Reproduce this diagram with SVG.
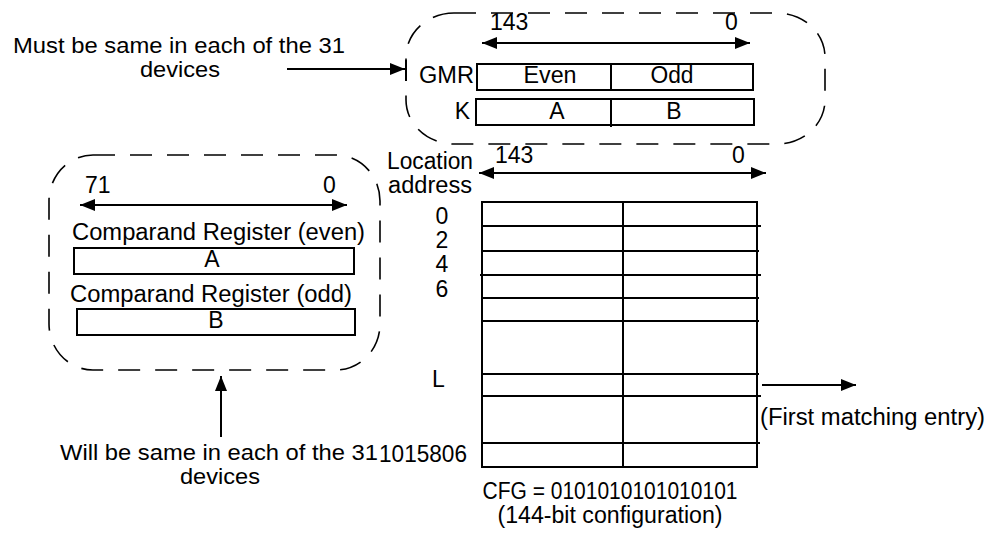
<svg xmlns="http://www.w3.org/2000/svg" width="987" height="533" viewBox="0 0 987 533">
<style>
text{font-family:"Liberation Sans",Arial,sans-serif;font-size:23px;fill:#000}
.n{font-size:21.5px}
.m{text-anchor:middle}
.e{text-anchor:end}
.box{fill:none;stroke:#000;stroke-width:2}
.ln{fill:none;stroke:#000;stroke-width:2}
.dash{fill:none;stroke:#000;stroke-width:1.6;stroke-dasharray:22 15}
.arr{fill:none;stroke:#000;stroke-width:2;marker-end:url(#ah)}
.darr{fill:none;stroke:#000;stroke-width:2;marker-end:url(#ah);marker-start:url(#ah)}
</style>
<defs>
<marker id="ah" markerUnits="userSpaceOnUse" markerWidth="16" markerHeight="14" refX="15" refY="6" orient="auto-start-reverse" viewBox="0 0 16 14">
<path d="M0,0 L15,6 L0,12 z" fill="#000"/>
</marker>
</defs>
<rect width="987" height="533" fill="#fff"/>

<g id="note-top">
<text class="n" x="13" y="53" textLength="332" lengthAdjust="spacingAndGlyphs">Must be same in each of the 31</text>
<text class="n" x="140" y="77" textLength="80" lengthAdjust="spacingAndGlyphs">devices</text>
</g>

<g id="gmr-group">
<rect class="dash" x="406" y="13" width="419" height="131" rx="48" ry="44"/>
<text x="490" y="30">143</text>
<text x="725" y="30">0</text>
<line class="darr" x1="482" y1="43" x2="750" y2="43"/>
<rect class="box" x="477" y="64" width="276" height="26"/>
<line class="ln" x1="611" y1="64" x2="611" y2="90"/>
<text class="e" x="474" y="83" textLength="55" lengthAdjust="spacingAndGlyphs">GMR</text>
<text class="m" x="550" y="83" textLength="53" lengthAdjust="spacingAndGlyphs">Even</text>
<text class="m" x="672" y="83" textLength="43" lengthAdjust="spacingAndGlyphs">Odd</text>
<rect class="box" x="476" y="99" width="278" height="26"/>
<line class="ln" x1="611" y1="99" x2="611" y2="127"/>
<text class="e" x="470" y="119">K</text>
<text class="m" x="557" y="119">A</text>
<text class="m" x="674" y="119">B</text>
</g>

<g id="comparand-group">
<rect class="dash" x="49" y="155" width="331" height="215" rx="44" ry="46"/>
<text x="85" y="193">71</text>
<text x="323" y="193">0</text>
<line class="darr" x1="80" y1="205" x2="347" y2="205"/>
<text x="72" y="240" textLength="293" lengthAdjust="spacingAndGlyphs">Comparand Register (even)</text>
<rect class="box" x="74" y="248" width="280" height="26"/>
<text class="m" x="212" y="267">A</text>
<text x="70" y="302" textLength="282" lengthAdjust="spacingAndGlyphs">Comparand Register (odd)</text>
<rect class="box" x="77" y="309" width="278" height="26"/>
<text class="m" x="216" y="328">B</text>
</g>

<g id="note-bottom">
<text class="n" x="60" y="460" textLength="318" lengthAdjust="spacingAndGlyphs">Will be same in each of the 31</text>
<text class="n" x="180" y="484" textLength="80" lengthAdjust="spacingAndGlyphs">devices</text>
</g>

<g id="table">
<text x="387" y="169" textLength="86" lengthAdjust="spacingAndGlyphs">Location</text>
<text x="388" y="193" textLength="84" lengthAdjust="spacingAndGlyphs">address</text>
<text x="495" y="163">143</text>
<text x="732" y="163">0</text>
<rect class="box" x="482" y="202" width="275" height="265"/>
<line class="ln" x1="623" y1="202" x2="623" y2="468"/>
<line class="ln" x1="481" y1="226" x2="761" y2="226"/>
<line class="ln" x1="482" y1="251" x2="759" y2="251"/>
<line class="ln" x1="480" y1="275" x2="761" y2="275"/>
<line class="ln" x1="482" y1="298" x2="759" y2="298"/>
<line class="ln" x1="482" y1="321" x2="759" y2="321"/>
<line class="ln" x1="481" y1="374" x2="759" y2="374"/>
<line class="ln" x1="481" y1="396" x2="761" y2="396"/>
<line class="ln" x1="481" y1="443" x2="760" y2="443"/>
<text class="m" x="442" y="224">0</text>
<text class="m" x="442" y="248">2</text>
<text class="m" x="442" y="272">4</text>
<text class="m" x="442" y="297">6</text>
<text x="432" y="387">L</text>
<text class="e" x="467" y="462" textLength="88" lengthAdjust="spacingAndGlyphs">1015806</text>
<text x="760" y="425" textLength="225" lengthAdjust="spacingAndGlyphs">(First matching entry)</text>
<text class="m" x="610" y="499" textLength="255" lengthAdjust="spacingAndGlyphs">CFG = 0101010101010101</text>
<text class="m" x="610" y="523" textLength="225" lengthAdjust="spacingAndGlyphs">(144-bit configuration)</text>
</g>

<g id="connectors">
<line class="darr" x1="479" y1="173" x2="766" y2="173"/>
<line class="arr" x1="287" y1="69" x2="405" y2="69"/>
<line class="ln" x1="406" y1="60" x2="406" y2="81"/>
<line class="arr" x1="221" y1="437" x2="221" y2="376"/>
<line class="arr" x1="762" y1="385" x2="856" y2="385"/>
</g>
</svg>
